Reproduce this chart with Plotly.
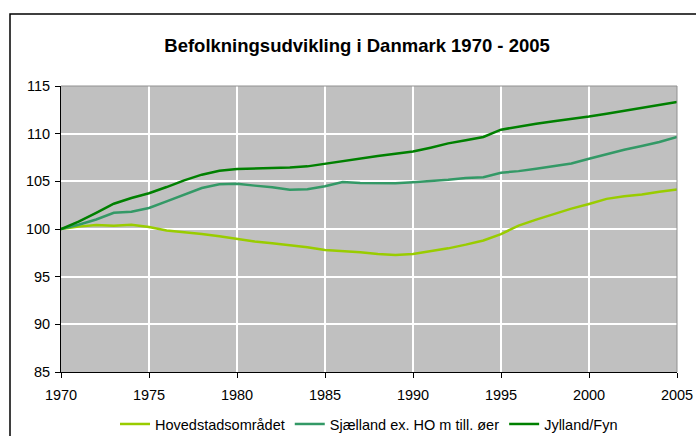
import plotly.graph_objects as go

years = list(range(1970, 2006))

hovedstad = [100.0, 100.25, 100.42, 100.35, 100.45, 100.2, 99.85, 99.7, 99.48, 99.23,
             98.95, 98.7, 98.5, 98.3, 98.08, 97.8, 97.7, 97.56, 97.38, 97.28,
             97.38, 97.66, 97.97, 98.36, 98.8, 99.47, 100.35, 100.98, 101.58, 102.14,
             102.63, 103.16, 103.44, 103.62, 103.9, 104.14]

sjaelland = [100.0, 100.45, 101.0, 101.7, 101.8, 102.2, 102.9, 103.6, 104.3, 104.7,
             104.75, 104.55, 104.38, 104.13, 104.16, 104.48, 104.93, 104.83, 104.8, 104.8,
             104.9, 105.0, 105.17, 105.35, 105.44, 105.9, 106.07, 106.32, 106.6, 106.88,
             107.37, 107.86, 108.32, 108.7, 109.12, 109.65]

jylland = [100.0, 100.77, 101.7, 102.65, 103.25, 103.75, 104.4, 105.1, 105.7, 106.1,
           106.3, 106.35, 106.38, 106.45, 106.57, 106.85, 107.17, 107.45, 107.66, 107.9,
           108.12, 108.53, 108.98, 109.32, 109.65, 110.42, 110.77, 111.05, 111.3, 111.54,
           111.79, 112.1, 112.42, 112.74, 113.0, 113.33]

series_names = ["Hovedstadsområdet", "Sjælland ex. HO m till. øer", "Jylland/Fyn"]
series_colors = ["#99CC00", "#339966", "#008000"]
x_ticks = [1970, 1975, 1980, 1985, 1990, 1995, 2000, 2005]
y_ticks = [85, 90, 95, 100, 105, 110, 115]
title_text = "Befolkningsudvikling i Danmark 1970 - 2005"

fig = go.Figure()
for name, vals, col in zip(series_names, [hovedstad, sjaelland, jylland], series_colors):
    fig.add_trace(go.Scatter(x=years, y=vals, mode="lines", name=name,
                             line=dict(color=col, width=2.5)))

font_family = "Liberation Sans, Arial, sans-serif"
fig.update_layout(
    width=696, height=436,
    margin=dict(l=61, r=19, t=86, b=64, autoexpand=False),
    paper_bgcolor="white",
    plot_bgcolor="#C0C0C0",
    font=dict(family=font_family, size=14.5, color="black"),
    title=dict(text="<b>" + title_text + "</b>", x=0.513, xanchor="center",
               yref="container", y=1 - 46 / 436, yanchor="middle",
               font=dict(family=font_family, size=18.5, color="black")),
    showlegend=True,
    legend=dict(orientation="h", x=0.5, xanchor="center", y=-0.182, yanchor="middle",
                font=dict(family=font_family, size=14.5), itemwidth=30,
                bgcolor="rgba(0,0,0,0)", tracegroupgap=0),
    xaxis=dict(range=[1970, 2005], tickvals=x_ticks, showgrid=True, gridcolor="white",
               gridwidth=1.5, showline=True, linecolor="black", linewidth=1,
               ticks="outside", ticklen=5, tickcolor="black", zeroline=False,
               automargin=False, ticklabelstandoff=5,
               tickfont=dict(size=14.5)),
    yaxis=dict(range=[85, 115], tickvals=y_ticks, showgrid=True, gridcolor="white",
               gridwidth=1.5, showline=True, linecolor="black", linewidth=1,
               ticks="outside", ticklen=5, tickcolor="black", zeroline=False,
               automargin=False, ticklabelstandoff=2,
               tickfont=dict(size=14.5)),
)

# plot area border (top/right) in grey
fig.add_shape(type="line", xref="paper", yref="paper", x0=0, x1=1, y0=1, y1=1,
              line=dict(color="#909090", width=1))
fig.add_shape(type="line", xref="paper", yref="paper", x0=1, x1=1, y0=0, y1=1,
              line=dict(color="#909090", width=1))
# outer chart frame (left and top visible)
fig.add_shape(type="rect", xref="paper", yref="paper",
              x0=(10 - 61) / 616, x1=(710 - 61) / 616,
              y0=(372 - 450) / 286, y1=(372 - 14) / 286,
              line=dict(color="black", width=1.5), fillcolor="rgba(0,0,0,0)")

fig.write_html("out.html",
               config={"displayModeBar": False},
               post_script="document.body.style.margin='0px';document.body.style.overflow='hidden';")
